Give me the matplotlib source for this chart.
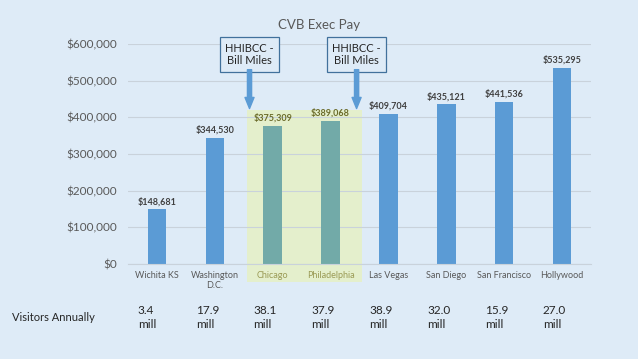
"""CVB executive pay by city, with annual visitor counts."""

import matplotlib.pyplot as plt
from matplotlib.patches import Rectangle
from matplotlib.ticker import FuncFormatter
from matplotlib.transforms import blended_transform_factory

CITIES = ["Wichita KS", "Washington\nD.C.", "Chicago", "Philadelphia",
          "Las Vegas", "San Diego", "San Francisco", "Hollywood"]
PAY = [148681, 344530, 375309, 389068, 409704, 435121, 441536, 535295]
VISITORS = ["3.4", "17.9", "38.1", "37.9", "38.9", "32.0", "15.9", "27.0"]
HIGHLIGHT = [2, 3]
CALLOUT_X = [1.6, 3.45]

BG = "#deebf7"
BAR = "#5b9bd5"
BAR_HI = "#72aaa8"
BOX_HI = "#e4efcc"
GRID = "#c9d2db"
GRAY = "#595959"

plt.rcParams["font.family"] = ["Lato", "DejaVu Sans"]

fig = plt.figure(figsize=(6.38, 3.59), dpi=100, facecolor=BG)
ax = fig.add_axes([0.2006, 0.2646, 0.7257, 0.6128])
ax.set_facecolor(BG)

x = list(range(len(CITIES)))
colors = [BAR_HI if i in HIGHLIGHT else BAR for i in x]
ax.bar(x, PAY, width=0.32, color=colors, zorder=2)

ax.set_xlim(-0.5, len(CITIES) - 0.5)
ax.set_ylim(0, 600000)
ax.set_yticks(range(0, 600001, 100000))
ax.yaxis.set_major_formatter(FuncFormatter(lambda v, _: f"${v:,.0f}"))
ax.grid(axis="y", color=GRID, linewidth=0.8)
ax.set_axisbelow(True)
for spine in ["top", "right", "left"]:
    ax.spines[spine].set_visible(False)
ax.spines["bottom"].set_color(GRID)
ax.tick_params(axis="y", length=0, labelsize=8.5, colors=GRAY, pad=8)
ax.tick_params(axis="x", length=0, labelsize=6.5, colors=GRAY, pad=5)
ax.set_xticks(x)
ax.set_xticklabels(CITIES)
for i, lab in enumerate(ax.get_xticklabels()):
    if i in HIGHLIGHT:
        lab.set_color("#9a9a55")

# highlighted Chicago / Philadelphia band
ax.add_patch(Rectangle((1.56, -49000), 1.98, 469000, facecolor=BOX_HI,
                       edgecolor="none", zorder=0.3, clip_on=False))

for i, v in enumerate(PAY):
    ax.text(i, v + 9000, f"${v:,}", ha="center", va="bottom", fontsize=6.5,
            fontweight="bold", color="#6b6b2a" if i in HIGHLIGHT else "#404040",
            zorder=3)

for cx in CALLOUT_X:
    ax.text(cx, 572000, "HHIBCC -\nBill Miles", ha="center", va="center",
            fontsize=8, color="#262626", linespacing=1.15, zorder=4,
            bbox=dict(boxstyle="square,pad=0.5", facecolor=BG,
                      edgecolor="#41719c", linewidth=0.9))
    ax.annotate("", xy=(cx, 424000), xytext=(cx, 530000),
                arrowprops=dict(arrowstyle="simple,head_width=0.65,head_length=0.8,tail_width=0.3",
                                color=BAR, shrinkA=0, shrinkB=0), zorder=4)

fig.text(0.5, 0.93, "CVB Exec Pay", ha="center", va="center",
         fontsize=9.5, color=GRAY)

trans = blended_transform_factory(ax.transData, fig.transFigure)
fig.text(0.019, 0.115, "Visitors Annually", ha="left", va="center",
         fontsize=8, color="#262626")
for i, v in enumerate(VISITORS):
    ax.text(i - 0.33, 0.115, f"{v}\nmill", transform=trans, ha="left",
            va="center", fontsize=8.5, color="#262626", linespacing=1.3)

fig.savefig("out.png", dpi=100, facecolor=fig.get_facecolor())
